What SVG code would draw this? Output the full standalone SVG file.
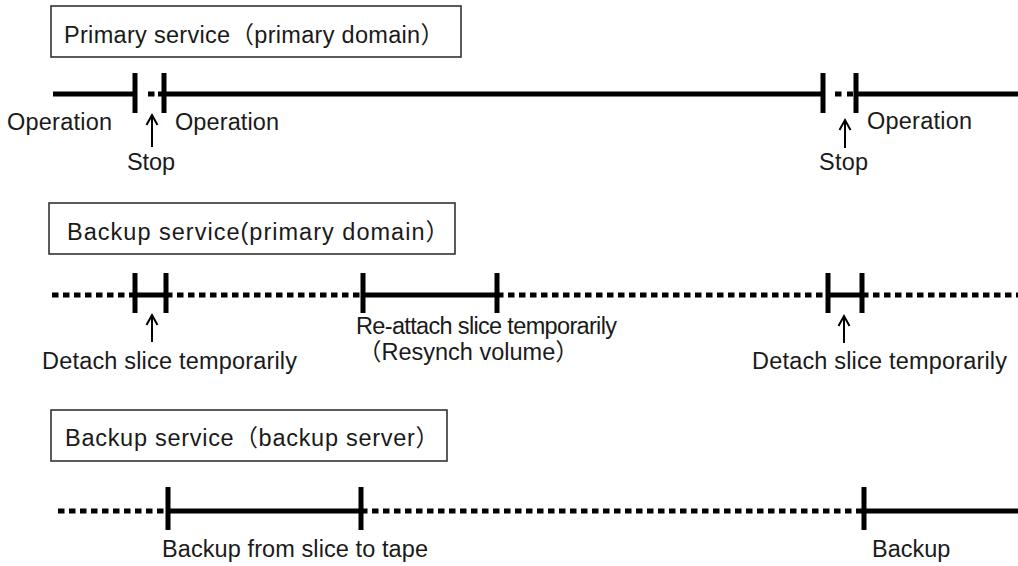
<svg xmlns="http://www.w3.org/2000/svg" width="1018" height="566" viewBox="0 0 1018 566">
<style>
text{font-family:"Liberation Sans","Noto Sans CJK JP",Arial,sans-serif;font-size:23.5px;fill:#1a1a1a}
.box{fill:#fff;stroke:#333;stroke-width:1.6}
.solid{stroke:#000;stroke-width:5;fill:none}
.dot{stroke:#000;stroke-width:5;fill:none;stroke-dasharray:6.5 4.5}
.tick{stroke:#000;stroke-width:5;fill:none}
.arr{stroke:#000;stroke-width:2;fill:none}
</style>
<g id="title-primary">
<rect class="box" x="51" y="6" width="410" height="51"/>
<text x="64" y="43" textLength="380" lengthAdjust="spacing">Primary service（primary domain）</text>
</g>
<g id="title-backup-primary">
<rect class="box" x="49" y="203" width="406" height="51"/>
<text x="67" y="240" textLength="382" lengthAdjust="spacing">Backup service(primary domain）</text>
</g>
<g id="title-backup-server">
<rect class="box" x="51" y="410" width="396" height="51"/>
<text x="65" y="446" textLength="374" lengthAdjust="spacing">Backup service（backup server）</text>
</g>
<g id="connectors">
<path class="solid" d="M53 94H135M164 94H823M856 94H1018"/>
<path class="dot" d="M148 94H155M158 94H163"/>
<path class="dot" d="M835 94H842M847 94H853"/>
<path class="tick" d="M135 73V113M164 73V113M823 73V113M856 73V113"/>
<path class="dot" d="M52 295H135M166 295H363M497 295H828M862 295H1018"/>
<path class="solid" d="M135 295H166M363 295H497M828 295H862"/>
<path class="tick" d="M135 273V313M166 273V313M363 273V313M497 273V313M828 273V313M862 273V313"/>
<path class="dot" d="M58 511H168M361 511H864"/>
<path class="solid" d="M168 511H361M864 511H1018"/>
<path class="tick" d="M168 487V530M361 487V530M864 487V530"/>
<path class="arr" d="M152 147V116M146.5 125L152 115L157.5 125"/>
<path class="arr" d="M845 148V121M839.5 130L845 120L850.5 130"/>
<path class="arr" d="M152 342V316M146.5 325L152 315L157.5 325"/>
<path class="arr" d="M844 343V317M838.5 326L844 316L849.5 326"/>
</g>
<g id="labels-primary">
<text x="7" y="130" textLength="105" lengthAdjust="spacing">Operation</text>
<text x="175" y="130" textLength="104" lengthAdjust="spacing">Operation</text>
<text x="867" y="129" textLength="105" lengthAdjust="spacing">Operation</text>
<text x="127" y="170" textLength="48" lengthAdjust="spacing">Stop</text>
<text x="819" y="170" textLength="49" lengthAdjust="spacing">Stop</text>
</g>
<g id="labels-backup-primary">
<text x="42" y="369" textLength="255" lengthAdjust="spacing">Detach slice temporarily</text>
<text x="356" y="334" textLength="261" lengthAdjust="spacing">Re-attach slice temporarily</text>
<text x="358" y="360">（Resynch volume）</text>
<text x="752" y="369" textLength="255" lengthAdjust="spacing">Detach slice temporarily</text>
</g>
<g id="labels-backup-server">
<text x="162" y="557" textLength="266" lengthAdjust="spacing">Backup from slice to tape</text>
<text x="872" y="557">Backup</text>
</g>
</svg>
